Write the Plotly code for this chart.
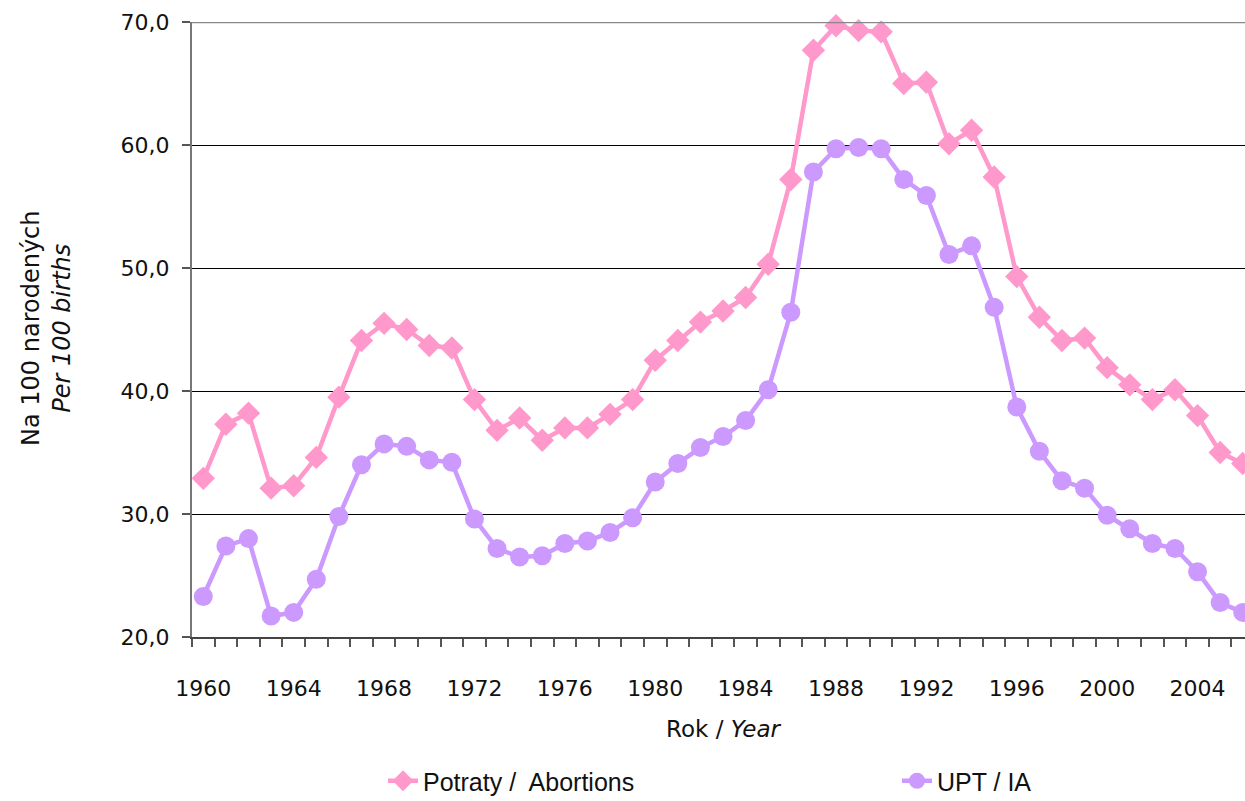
import plotly.graph_objects as go

years = list(range(1960, 2007))
abortions = [32.9, 37.3, 38.2, 32.1, 32.3, 34.6, 39.5, 44.1, 45.5, 45.0,
             43.7, 43.5, 39.3, 36.8, 37.8, 36.0, 37.0, 37.0, 38.1, 39.3,
             42.5, 44.1, 45.6, 46.5, 47.6, 50.3, 57.2, 67.7, 69.7, 69.3,
             69.2, 65.0, 65.1, 60.1, 61.2, 57.4, 49.3, 46.0, 44.1, 44.3,
             41.9, 40.5, 39.3, 40.1, 38.0, 35.0, 34.1]
ia = [23.3, 27.4, 28.0, 21.7, 22.0, 24.7, 29.8, 34.0, 35.7, 35.5,
      34.4, 34.2, 29.6, 27.2, 26.5, 26.6, 27.6, 27.8, 28.5, 29.7,
      32.6, 34.1, 35.4, 36.3, 37.6, 40.1, 46.4, 57.8, 59.7, 59.8,
      59.7, 57.2, 55.9, 51.1, 51.8, 46.8, 38.7, 35.1, 32.7, 32.1,
      29.9, 28.8, 27.6, 27.2, 25.3, 22.8, 22.0]
label_years = list(range(1960, 2005, 4))
y_ticks = [20, 30, 40, 50, 60, 70]

W, H = 1245, 801
ML, MR, MT, MB = 192, 0, 22, 164
PW, PH = W - ML - MR, H - MT - MB

def px_x(p):
    return (p - ML) / PW

def px_y(p):
    return (H - MB - p) / PH

fig = go.Figure()
fig.add_trace(go.Scatter(
    x=years, y=abortions, name="Potraty /  Abortions", mode="lines+markers",
    line=dict(color="#FF99CC", width=4.5),
    marker=dict(symbol="diamond", size=18, color="#FF99CC"),
    cliponaxis=False, legend="legend"))
fig.add_trace(go.Scatter(
    x=years, y=ia, name="UPT / IA", mode="lines+markers",
    line=dict(color="#CC99FF", width=4.5),
    marker=dict(symbol="circle", size=19, color="#CC99FF"),
    cliponaxis=False, legend="legend2"))

FONT = "'DejaVu Sans', sans-serif"
tick_font = dict(family=FONT, size=22, color="#111111")
legend_font = dict(family="'Liberation Sans', Arial, sans-serif", size=25, color="#111111")

fig.update_layout(
    width=W, height=H,
    margin=dict(l=ML, r=MR, t=MT, b=MB, autoexpand=False),
    paper_bgcolor="white", plot_bgcolor="white",
    separators=", ",
    showlegend=True,
    legend=dict(orientation="h", x=px_x(383), y=px_y(781), xanchor="left", yanchor="middle",
                font=legend_font, bgcolor="rgba(0,0,0,0)"),
    legend2=dict(orientation="h", x=px_x(897), y=px_y(781), xanchor="left", yanchor="middle",
                 font=legend_font, bgcolor="rgba(0,0,0,0)"),
    xaxis=dict(range=[1959.5, 2006.1], tickmode="array", tickvals=label_years,
               ticktext=[str(y) for y in label_years], ticks="", ticklabelstandoff=31,
               tickfont=tick_font, showgrid=False, zeroline=False, automargin=False,
               showline=True, linecolor="#444444", linewidth=2,
               minor=dict(tickmode="array", tickvals=[y - 0.5 for y in years] + [2006.5],
                          ticks="outside", ticklen=8, tickcolor="#555555", tickwidth=1.5, showgrid=False)),
    yaxis=dict(range=[20, 70], tickmode="array", tickvals=y_ticks, tickformat=".1f",
               ticks="outside", ticklen=8, tickcolor="#555555", tickwidth=1.5, ticklabelstandoff=8,
               tickfont=tick_font, showgrid=True, gridcolor="#000000", gridwidth=1,
               zeroline=False, showline=True, linecolor="#777777", linewidth=2, automargin=False),
    annotations=[
        dict(x=px_x(723), y=px_y(729), xref="paper", yref="paper", showarrow=False,
             text="Rok / <i>Year</i>", font=dict(family=FONT, size=23, color="#111111"),
             xanchor="center", yanchor="middle"),
        dict(x=px_x(46), y=px_y(328), xref="paper", yref="paper", showarrow=False, textangle=-90,
             text="Na 100 narodených<br><i>Per 100 births</i>",
             font=dict(family=FONT, size=24, color="#111111"),
             xanchor="center", yanchor="middle"),
    ],
    shapes=[dict(type="line", xref="paper", yref="y", x0=0, x1=1, y0=70, y1=70,
                 line=dict(color="#888888", width=2.5), layer="above")],
)

fig.write_html("out.html", config={"displayModeBar": False},
               post_script="document.body.style.margin='0';document.body.style.overflow='hidden';")
